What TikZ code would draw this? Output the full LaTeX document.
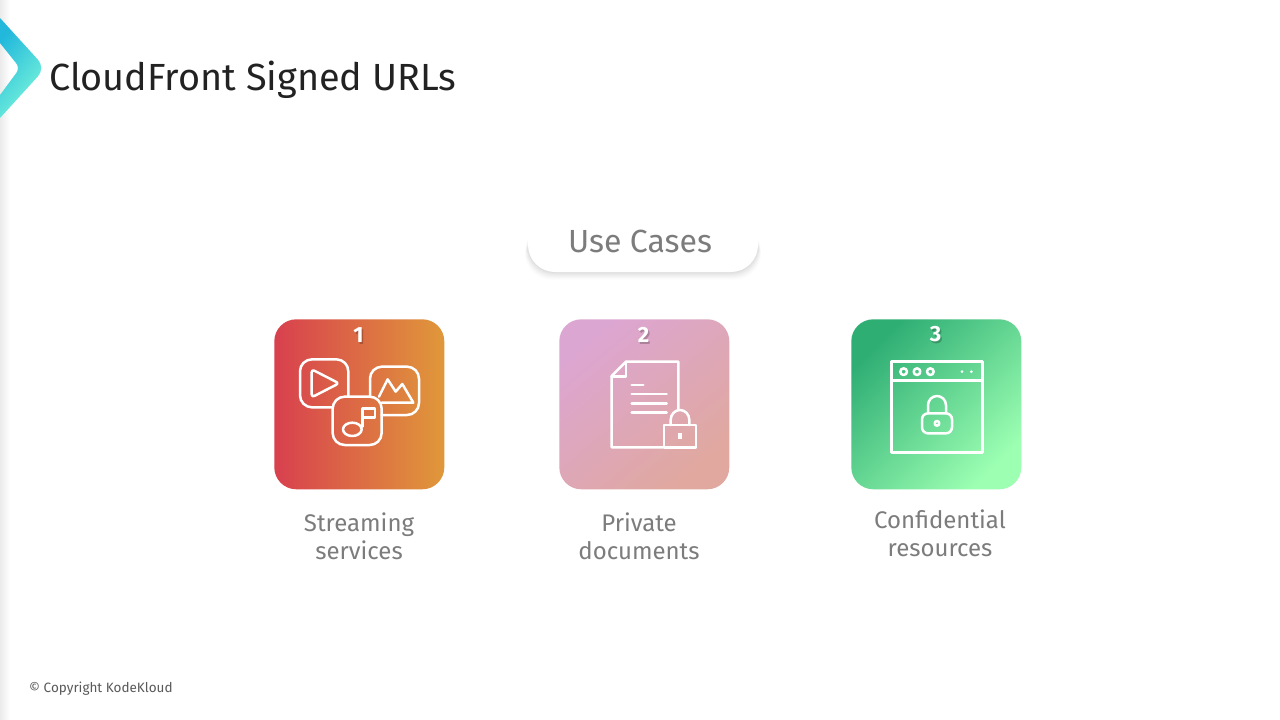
\documentclass[tikz,border=0pt]{standalone}
\usepackage{fontspec}
\setmainfont{Fira Sans}[Scale=1.0]
\usetikzlibrary{calc}
\definecolor{txtgray}{HTML}{7C7C7C}
\definecolor{titlecol}{HTML}{222222}
\definecolor{redA}{HTML}{D8404E}
\definecolor{orgA}{HTML}{E0983A}
\definecolor{pinkA}{HTML}{DCA6D2}
\definecolor{pinkB}{HTML}{E0A89E}
\definecolor{grnA}{HTML}{2FAE74}
\definecolor{grnB}{HTML}{9CFFB2}
\definecolor{chevA}{HTML}{22B8DC}
\definecolor{chevB}{HTML}{7CF8DA}
\tikzset{
  x=1pt,y=-1pt,
  tile/.style={rounded corners=22pt},
  iconline/.style={draw=white,line width=2.5pt,line join=round,line cap=round},
  zoomed/.style={shift={(#1)},x=0.33333pt,y=-0.33333pt},
  label/.style={font=\fontsize{24}{29}\selectfont,text=txtgray,anchor=base},
  num/.style={font=\fontsize{22}{26}\selectfont\bfseries,text=white,anchor=base},
  numsh/.style={font=\fontsize{22}{26}\selectfont\bfseries,text=black,opacity=.22,anchor=base},
}
\begin{document}
\begin{tikzpicture}
\useasboundingbox (0,0) rectangle (1280,720);
\fill[white] (0,0) rectangle (1280,720);
% left edge
\shade[left color=black!8,right color=white] (0,0) rectangle (10,720);
% chevron
\shade[left color=chevA,right color=chevB,shading angle=50]
  (0,18) [rounded corners=11pt] -- (45.5,68) [sharp corners] -- (0,118) -- (0,95)
  [rounded corners=6pt] -- (20,68) [sharp corners] -- (0,43) -- cycle;
\node[anchor=base west,inner sep=0pt,text=titlecol,font=\fontsize{37.8}{45}\selectfont] (title) at (49,90.5) {CloudFront Signed URLs};
% pill
\foreach \o/\w in {8/.008,7/.01,6/.012,5/.014,4/.016,3/.018,2/.02,1/.025}{
  \fill[black,opacity=\w,rounded corners=27pt] (528-\o*.4,225) rectangle (758+\o*.4,272+\o);
}
\fill[white,rounded corners=27pt] (528,205) rectangle (758,272);
\node[label,font=\fontsize{32}{38}\selectfont] (usecases) at (640,252) {Use Cases};
% tiles
\shade[tile,left color=redA,right color=orgA] (274.3,319.3) rectangle (444.3,489.3);
\shade[tile,left color=pinkA,right color=pinkB,shading angle=40] (559.3,319.3) rectangle (729.3,489.3);
\shade[tile,left color=grnA,right color=grnB,shading angle=45] (851.3,319.3) rectangle (1021.3,489.3);
% numbers
\node[numsh] at (360,344) {1};\node[num] (n1) at (358.5,342) {1};
\node[numsh] at (645,344) {2};\node[num] (n2) at (643.5,342) {2};
\node[numsh] at (937,343) {3};\node[num] (n3) at (935.5,341) {3};
% icon 1
\begin{scope}[zoomed={265pt,-310pt}]
  \draw[iconline,rounded corners=12pt] (203,292) -- (105,292) -- (105,148) -- (250,148) -- (250,260);
  \draw[iconline,rounded corners=3pt] (140,178) -- (222,220) -- (140,262) -- cycle;
  \draw[iconline,rounded corners=12pt] (315,260) -- (315,170) -- (462,170) -- (462,315) -- (350,315);
  \draw[iconline] (342,260) -- (368,208) -- (392,245) -- (412,222) -- (445,278) -- (350,278);
  \draw[iconline,rounded corners=12pt] (203,330) -- (203,260) -- (350,260) -- (350,405) -- (203,405) -- cycle;
  \draw[iconline] (262,358) ellipse [x radius=28,y radius=20];
  \draw[iconline] (292,350) -- (292,295) -- (330,295) -- (330,322) -- (292,322);
\end{scope}
% icon 2
\begin{scope}[zoomed={550pt,-310pt}]
  \draw[iconline] (340,412) -- (185,412) -- (185,198) -- (228,155) -- (385,155) -- (385,298);
  \draw[iconline] (228,155) -- (228,200) -- (185,200);
  \draw[iconline] (245,225) -- (280,225);
  \draw[iconline] (245,252) -- (350,252);
  \draw[iconline] (245,280) -- (350,280);
  \draw[iconline] (245,307) -- (350,307);
  \draw[iconline] (342,345) rectangle (438,412);
  \draw[iconline] (362,345) -- (362,330) arc[start angle=180,end angle=360,x radius=28,y radius=30] -- (418,345);
  \fill[white] (385,368) rectangle (395,388);
\end{scope}
% icon 3
\begin{scope}[zoomed={842pt,-310pt}]
  \draw[iconline] (148,155) rectangle (422,428);
  \draw[iconline] (148,212) -- (422,212);
  \foreach \cx in {185,225,265}{\draw[iconline] (\cx,185) circle[radius=10];}
  \foreach \cx in {360,388}{\fill[white] (\cx,185) circle[radius=4.5];}
  \draw[iconline,rounded corners=6pt] (240,310) rectangle (330,370);
  \draw[iconline] (258,310) -- (258,286) arc[start angle=180,end angle=360,x radius=27,y radius=28] -- (312,310);
  \draw[iconline] (285,340) circle[radius=7];
\end{scope}
% labels
\node[label] (l1a) at (359,531) {Streaming};
\node[label] (l1b) at (359,559.5) {services};
\node[label] (l2a) at (639,531) {Private};
\node[label] (l2b) at (639,559.5) {documents};
\node[label] (l3a) at (940,528) {Confidential};
\node[label] (l3b) at (940,556.5) {resources};
\node[anchor=base west,inner sep=0pt,text=black!65,font=\fontsize{13.5}{16}\selectfont] (copy) at (29,692) {© Copyright KodeKloud};
\end{tikzpicture}
\end{document}
